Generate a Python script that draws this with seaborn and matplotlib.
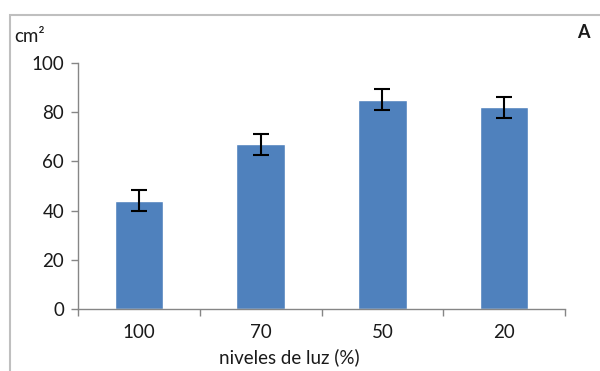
import matplotlib
matplotlib.use("Agg")
import matplotlib.pyplot as plt
import seaborn as sns
import pandas as pd
from matplotlib.patches import Rectangle
from matplotlib.ticker import FixedLocator, NullFormatter

categories = ["100", "70", "50", "20"]
values = [44, 67, 85, 82]
errors = [4.3, 4.3, 4.3, 4.3]

sns.set_style("white")
plt.rcParams['font.family'] = ['Lato', 'DejaVu Sans']
plt.rcParams['text.color'] = '#1a1a1a'

fig = plt.figure(figsize=(6, 3.71), dpi=100)
ax = fig.add_axes([78/600, 1-309/371, (565-78)/600, (309-63)/371])

df = pd.DataFrame({"nivel": categories, "area": values})
sns.barplot(data=df, x="nivel", y="area", color="#4F81BD", saturation=1,
            width=0.4, ax=ax, errorbar=None, order=categories)
ax.errorbar(range(len(categories)), values, yerr=errors, fmt="none",
            ecolor="black", elinewidth=1.5, capsize=6, capthick=1.5)

ax.set_xlim(-0.5, len(categories) - 0.5)
ax.set_ylim(0, 100)
ax.set_yticks([0, 20, 40, 60, 80, 100])
ax.tick_params(axis="y", labelsize=13.5, length=5, width=1, color="#868686",
               direction="out", left=True, pad=5, labelcolor="#1a1a1a")
ax.tick_params(axis="x", which="both", labelsize=13.5, color="#868686", labelcolor="#1a1a1a")
ax.xaxis.set_minor_locator(FixedLocator([-0.5, 0.5, 1.5, 2.5, 3.5]))
ax.xaxis.set_minor_formatter(NullFormatter())
ax.tick_params(axis="x", which="major", length=0, pad=11)
ax.tick_params(axis="x", which="minor", length=5, width=1, direction="out", bottom=True)

for s in ["top", "right"]:
    ax.spines[s].set_visible(False)
for s in ["left", "bottom"]:
    ax.spines[s].set_color("#868686")
    ax.spines[s].set_linewidth(1)

ax.set_xlabel("")
ax.set_ylabel("")
fig.text(289/600, 1-357/371, "niveles de luz (%)", ha="center", va="center", fontsize=13.5)
fig.text(14/600, 1-36/371, "cm²", ha="left", va="center", fontsize=13.5)
fig.text(583/600, 1-33/371, "A", ha="center", va="center", fontsize=13, fontweight="bold")

fig.patches.append(Rectangle((10/600, -0.2), 1.2, 1.2 - 15/371, transform=fig.transFigure,
                             fill=False, edgecolor="#BFBFBF", linewidth=1.5))

fig.savefig("out.png", dpi=100)
